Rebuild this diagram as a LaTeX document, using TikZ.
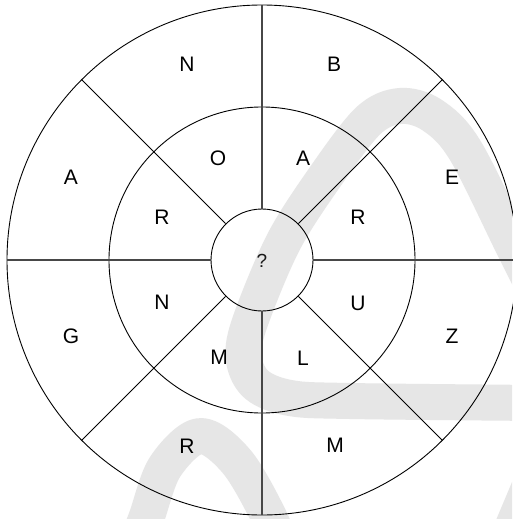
\documentclass[tikz,border=0pt]{standalone}
\usepackage{fontspec}
\setmainfont{Liberation Sans}
\definecolor{wmgray}{RGB}{230,230,230}
\begin{document}
\begin{tikzpicture}[x=1pt,y=-1pt,
  wm/.style={draw=wmgray,line width=36pt,line cap=butt,line join=round},
  ring/.style={draw=black,line width=0.9pt},
  axisline/.style={draw=black!72,line width=1.1pt},
  diagline/.style={draw=black,line width=0.8pt},
  lab/.style={font=\fontsize{21pt}{25pt}\selectfont,text=black,inner sep=0pt}]
\useasboundingbox (0,0) rectangle (512,519);
\fill[white] (0,0) rectangle (512,519);
% watermark
\begin{scope}
\clip (0,0) rectangle (512,519);
\draw[wm] plot[smooth,tension=0.55] coordinates {(545,310) (515,250) (465,150) (432,115) (400,106) (368,121) (325,177) (283,243) (249,325) (244,360) (257,385) (290,398) (350,401) (540,403)};
\draw[wm] plot[smooth,tension=0.55] coordinates {(130,560) (146,519) (165,467) (200,436) (237,462) (270,519) (285,560)};
\draw[wm] (500,557) -- (540,462);
\end{scope}
\coordinate (C) at (262,260);
\draw[ring] (C) circle[radius=255];
\draw[ring] (C) circle[radius=153];
\node[circle,ring,minimum size=102,inner sep=0pt] (q) at (C) {};
\node[font=\fontsize{19pt}{23pt}\selectfont,text=black!90,inner sep=0pt] (qm) at (262,261) {?};
\foreach \a in {0,90,180,270}{
  \coordinate (o\a) at ([shift={(-\a:255)}]C);
  \draw[axisline] (q.\a) -- (o\a);
}
\foreach \a in {45,135,225,315}{
  \coordinate (o\a) at ([shift={(-\a:255)}]C);
  \draw[diagline] (q.\a) -- (o\a);
}
% outer ring
\node[lab] (oN) at (187,64) {N};
\node[lab] (oB) at (334,64) {B};
\node[lab] (oA) at (71,177) {A};
\node[lab] (oE) at (452,177) {E};
\node[lab] (oG) at (71,336) {G};
\node[lab] (oZ) at (452,336) {Z};
\node[lab] (oR) at (187,446) {R};
\node[lab] (oM) at (335,445) {M};
% middle ring
\node[lab] (mO) at (218,158) {O};
\node[lab] (mA) at (303,158) {A};
\node[lab] (mR1) at (162,217) {R};
\node[lab] (mR2) at (358,217) {R};
\node[lab] (mN) at (162,302) {N};
\node[lab] (mU) at (358,303) {U};
\node[lab] (mM) at (219,357) {M};
\node[lab] (mL) at (303,358) {L};
\end{tikzpicture}
\end{document}
